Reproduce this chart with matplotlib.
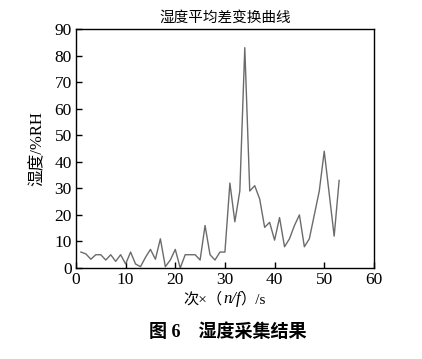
import matplotlib
matplotlib.use("Agg")
import matplotlib.pyplot as plt
from matplotlib.offsetbox import TextArea, HPacker, AnnotationBbox

# 数据
n = list(range(1, 54))
humidity = [6, 5.3, 3.3, 5, 5, 3, 5, 2.5, 5, 1.5,
            6, 1.5, 0.5, 4, 7, 3.3, 11, 0.5, 3, 7,
            0, 5, 5, 5, 3, 16, 5, 3, 6, 6,
            32, 17.4, 29, 83, 29, 31, 26, 15.3, 17.2, 10.5,
            19, 8, 11, 16, 20, 8, 11, 20, 29, 44,
            28, 12, 33]
xticks = [0, 10, 20, 30, 40, 50, 60]
yticks = [0, 10, 20, 30, 40, 50, 60, 70, 80, 90]

fam = ['Liberation Serif', 'Noto Sans CJK SC']
plt.rcParams['font.family'] = fam

fig = plt.figure(figsize=(4.22, 3.59), dpi=100)
ax = fig.add_axes([0.180, 0.2535, 0.706, 0.6655])

ax.plot(n, humidity, color='#6b6b6b', lw=1.0)

ax.set_xlim(0, 60)
ax.set_ylim(0, 90)
ax.set_xticks(xticks)
ax.set_yticks(yticks)
ax.tick_params(direction='in', length=4, width=1, labelsize=12.5, pad=3,
               top=False, right=False)
for sp in ax.spines.values():
    sp.set_linewidth(1.0)

ax.set_title('湿度平均差变换曲线', fontsize=10.5, pad=5)
ax.set_ylabel('湿度/%RH', fontsize=12, labelpad=6)

# x 轴标签：次×（n/f）/s，其中 n、f 为斜体
parts = [
    TextArea('次×（', textprops=dict(family=fam, size=11)),
    TextArea('n/f', textprops=dict(family='Liberation Serif', style='italic', size=12)),
    TextArea('）/s', textprops=dict(family=fam, size=11)),
]
box = HPacker(children=parts, pad=0, sep=0, align='baseline')
ab = AnnotationBbox(box, (0.5, -0.13), xycoords='axes fraction',
                    frameon=False, box_alignment=(0.5, 0.5))
ax.add_artist(ab)

fig.text(0.54, 0.075, '图 6    湿度采集结果', ha='center', va='center',
         fontsize=13, fontweight='bold', family=fam)

fig.savefig('out.png', dpi=100)
